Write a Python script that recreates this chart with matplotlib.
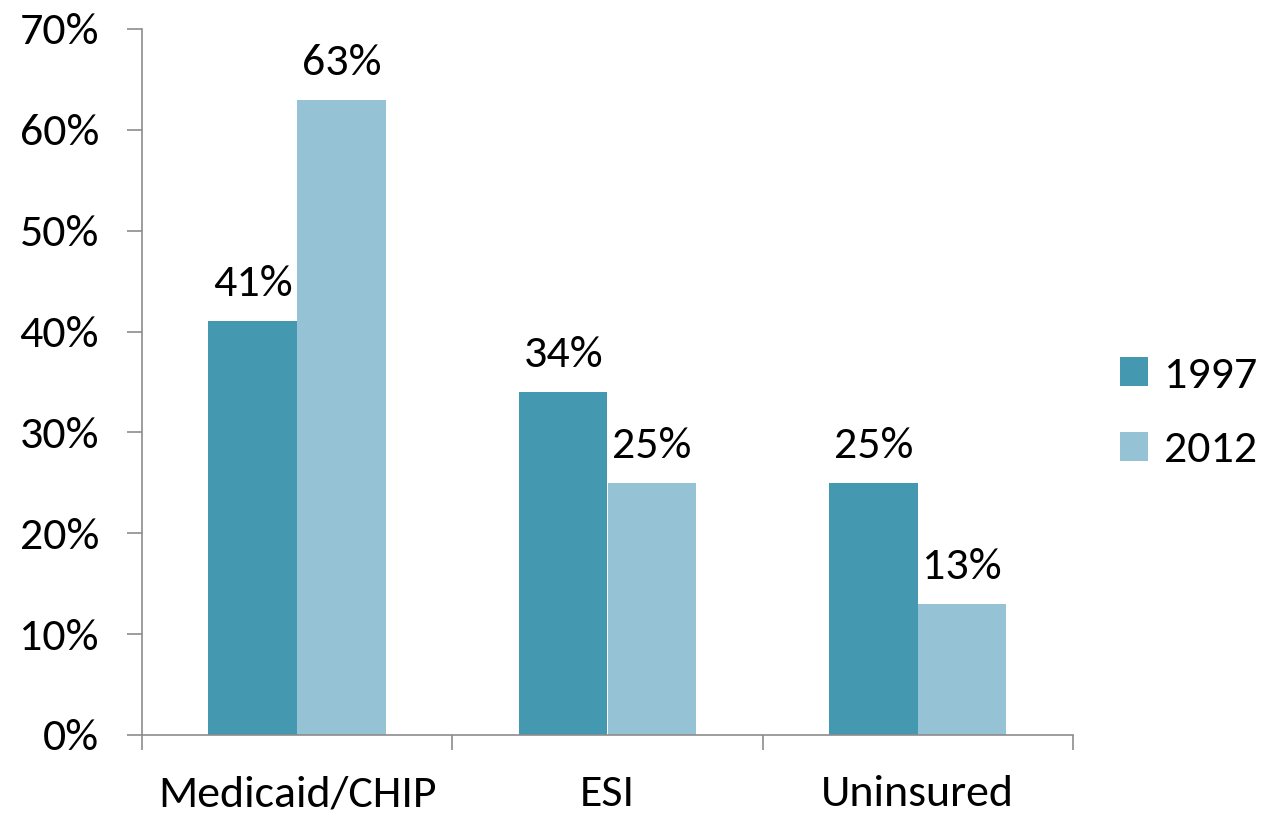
import numpy as np
import matplotlib.pyplot as plt
from matplotlib import font_manager

# datos
categorias = ['Medicaid/CHIP', 'ESI', 'Uninsured']
anios = ['1997', '2012']
v1997 = [41, 34, 25]
v2012 = [63, 25, 13]
yticks = [0, 10, 20, 30, 40, 50, 60, 70]

disponibles = {f.name for f in font_manager.fontManager.ttflist}
familia = [f for f in ['Carlito', 'Lato', 'DejaVu Sans'] if f in disponibles]
plt.rcParams['font.family'] = familia

color_a = '#4499b1'
color_b = '#95c3d5'
gris = '#8c8c8c'

fig = plt.figure(figsize=(12.61, 8.18), dpi=100)
ax = fig.add_axes([142 / 1261, 1 - 735 / 818, (1073 - 142) / 1261, (735 - 29) / 818])

x = np.arange(len(categorias))
ancho = 1 / 3.5
b1 = ax.bar(x - ancho / 2, v1997, ancho, color=color_a, label=anios[0])
b2 = ax.bar(x + ancho / 2, v2012, ancho, color=color_b, label=anios[1])

fs = 33
for barras, vals in ((b1, v1997), (b2, v2012)):
    for b, v in zip(barras, vals):
        ax.annotate(f'{v}%', (b.get_x() + b.get_width() / 2, v),
                    xytext=(0, 13), textcoords='offset points',
                    ha='center', va='bottom', fontsize=fs)

ax.set_xlim(-0.5, len(categorias) - 0.5)
ax.set_ylim(0, 70)
ax.set_yticks(yticks)
ax.set_yticklabels([f'{t}%' for t in yticks], fontsize=fs)
ax.set_xticks(x)
ax.set_xticklabels(categorias, fontsize=fs)
ax.set_xticks(np.arange(len(categorias) + 1) - 0.5, minor=True)

for s in ['top', 'right']:
    ax.spines[s].set_visible(False)
for s in ['left', 'bottom']:
    ax.spines[s].set_color(gris)
    ax.spines[s].set_linewidth(1.2)

ax.tick_params(axis='y', length=11, width=1.2, color=gris, pad=20)
ax.tick_params(axis='x', which='major', length=0, pad=29)
ax.tick_params(axis='x', which='minor', length=11, width=1.2, color=gris)

ax.legend(loc='center left', bbox_to_anchor=(1120 / 1261, 1 - 413 / 818),
          bbox_transform=fig.transFigure, frameon=False, borderpad=0,
          borderaxespad=0, fontsize=fs, handlelength=0.6, handleheight=0.6,
          handletextpad=0.35, labelspacing=0.8)

fig.savefig('out.png', dpi=100)
